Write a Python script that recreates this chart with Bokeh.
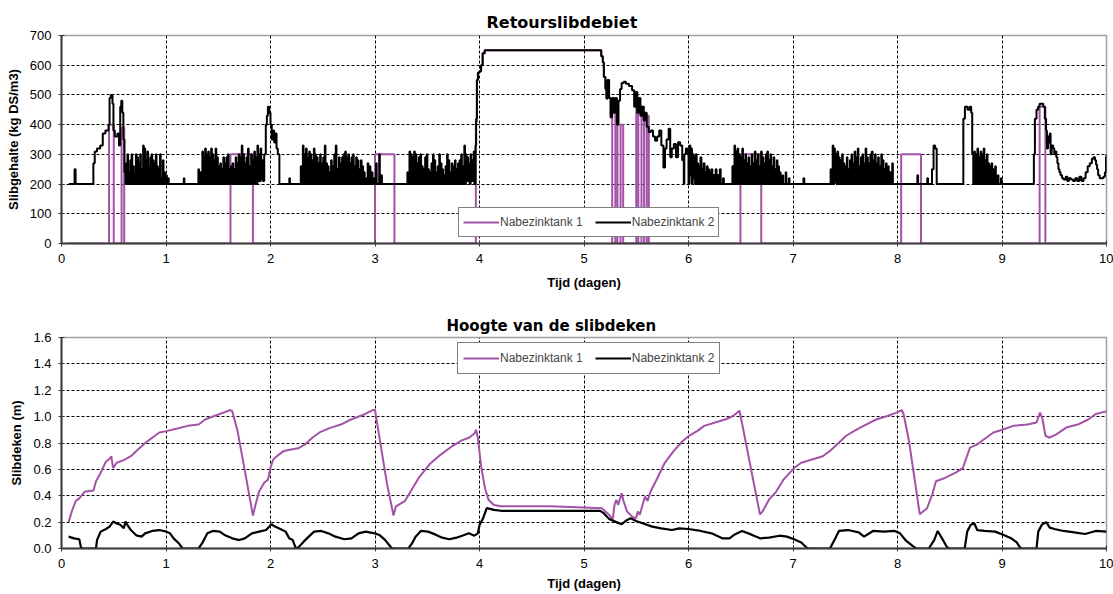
from bokeh.plotting import figure
from bokeh.layouts import column
from bokeh.models import (Range1d, SingleIntervalTicker, Legend, LegendItem,
                          NumeralTickFormatter)
from bokeh.embed import file_html
from bokeh.resources import INLINE

# ---------------------------------------------------------------------------
# Data: time in days, values per settling tank
# ---------------------------------------------------------------------------
series_names = ["Nabezinktank 1", "Nabezinktank 2"]

# Return sludge concentration (kg DS/m3), stepwise signals (day, value)
retour_tank1 = [
    (0.07, 0), (0.455, 400), (0.50, 0), (0.575, 390), (0.60, 0),
    (1.617, 300), (1.832, 0), (3.0, 300), (3.186, 0),
    (3.965, 410), (3.975, 550), (3.985, 575), (4.0, 580), (4.015, 600),
    (4.03, 640), (4.05, 650), (5.15, 650), (5.165, 630), (5.18, 610),
    (5.19, 560), (5.205, 520), (5.215, 488), (5.225, 550), (5.24, 490),
    (5.255, 425), (5.27, 0), (5.30, 450), (5.32, 0), (5.35, 400), (5.375, 0),
    (5.50, 470), (5.52, 0), (5.55, 460), (5.575, 0), (5.60, 430), (5.62, 0),
    (6.497, 300), (6.696, 0), (8.035, 300), (8.225, 0), (9.36, 460),
    (9.415, 0), (10.0, 0),
]

retour_tank2 = [
    (0.07, 200), (0.125, 250), (0.135, 200), (0.305, 270), (0.318, 310),
    (0.34, 320), (0.37, 330), (0.395, 370), (0.42, 380), (0.45, 400),
    (0.46, 490), (0.472, 500), (0.488, 470), (0.497, 380), (0.51, 360),
    (0.535, 370), (0.55, 330), (0.562, 460), (0.572, 480), (0.582, 440),
    (0.592, 350), (0.602, 240),
    (0.612, 200), (0.618, 270), (0.624, 200), (0.631, 300), (0.637, 200),
    (0.645, 240), (0.651, 200), (0.658, 280), (0.664, 200), (0.671, 300),
    (0.677, 200), (0.686, 260), (0.692, 200), (0.699, 230), (0.705, 200),
    (0.712, 300), (0.718, 200), (0.726, 290), (0.732, 200), (0.74, 270),
    (0.746, 200), (0.753, 300), (0.759, 200), (0.767, 250), (0.773, 200),
    (0.781, 330), (0.787, 200), (0.795, 320), (0.801, 200), (0.808, 280),
    (0.814, 200), (0.822, 310), (0.828, 200), (0.835, 260), (0.841, 200),
    (0.849, 290), (0.855, 200), (0.862, 300), (0.868, 200), (0.876, 280),
    (0.882, 200), (0.889, 270), (0.895, 200), (0.903, 300), (0.909, 200),
    (0.916, 260), (0.922, 200), (0.93, 250), (0.936, 200), (0.943, 300),
    (0.949, 200), (0.957, 220), (0.963, 200), (0.97, 280), (0.976, 200),
    (0.985, 240), (0.991, 200), (1.002, 230), (1.008, 200), (1.02, 220),
    (1.026, 200), (1.17, 220), (1.176, 200),
    (1.31, 250), (1.316, 200), (1.33, 240), (1.336, 200), (1.348, 310),
    (1.354, 200), (1.362, 290), (1.368, 200), (1.375, 320), (1.381, 200),
    (1.39, 300), (1.396, 200), (1.404, 310), (1.41, 200), (1.418, 290),
    (1.424, 200), (1.432, 320), (1.438, 200), (1.447, 300), (1.453, 200),
    (1.461, 280), (1.467, 200), (1.475, 320), (1.481, 200), (1.49, 290),
    (1.496, 200), (1.505, 260), (1.511, 200), (1.52, 270), (1.526, 200),
    (1.535, 250), (1.541, 200), (1.549, 290), (1.555, 200), (1.563, 270),
    (1.569, 200), (1.578, 290), (1.584, 200), (1.593, 300), (1.599, 200),
    (1.608, 250), (1.614, 200), (1.622, 260), (1.628, 200), (1.637, 270),
    (1.643, 200), (1.652, 250), (1.658, 200), (1.667, 290), (1.673, 200),
    (1.681, 270), (1.687, 200), (1.696, 300), (1.702, 200), (1.71, 290),
    (1.716, 200), (1.725, 330), (1.731, 200), (1.74, 300), (1.746, 200),
    (1.755, 270), (1.761, 200), (1.77, 290), (1.776, 200), (1.785, 320),
    (1.791, 200), (1.8, 260), (1.806, 200), (1.815, 300), (1.821, 200),
    (1.83, 280), (1.836, 200), (1.845, 310), (1.851, 200), (1.86, 290),
    (1.866, 200), (1.875, 330), (1.881, 210), (1.89, 300), (1.896, 210),
    (1.905, 320), (1.911, 220), (1.92, 280), (1.926, 210),
    (1.94, 300), (1.955, 400), (1.965, 430), (1.975, 460), (1.988, 440),
    (2.0, 400), (2.012, 350), (2.025, 380), (2.035, 340), (2.045, 370),
    (2.058, 320), (2.07, 300), (2.085, 200), (2.18, 220), (2.186, 200),
    (2.29, 260), (2.296, 200), (2.31, 330), (2.316, 200), (2.325, 300),
    (2.331, 200), (2.34, 320), (2.346, 200), (2.355, 290), (2.361, 200),
    (2.37, 310), (2.376, 200), (2.385, 300), (2.391, 200), (2.4, 280),
    (2.406, 200), (2.415, 320), (2.421, 200), (2.43, 300), (2.436, 200),
    (2.445, 290), (2.451, 200), (2.46, 270), (2.466, 200), (2.475, 300),
    (2.481, 200), (2.49, 270), (2.496, 200), (2.505, 290), (2.511, 200),
    (2.52, 330), (2.526, 200), (2.535, 270), (2.541, 200), (2.55, 260),
    (2.556, 200), (2.565, 240), (2.571, 200), (2.58, 280), (2.586, 200),
    (2.595, 260), (2.601, 200), (2.61, 300), (2.616, 200), (2.625, 330),
    (2.631, 200), (2.64, 250), (2.646, 200), (2.655, 290), (2.661, 200),
    (2.67, 270), (2.676, 200), (2.685, 290), (2.691, 200), (2.7, 300),
    (2.706, 200), (2.715, 310), (2.721, 200), (2.73, 290), (2.736, 200),
    (2.745, 300), (2.751, 200), (2.76, 270), (2.766, 200), (2.775, 290),
    (2.781, 200), (2.79, 300), (2.796, 200), (2.805, 260), (2.811, 200),
    (2.82, 290), (2.826, 200), (2.835, 280), (2.841, 200), (2.85, 250),
    (2.856, 200), (2.865, 280), (2.871, 200), (2.88, 260), (2.886, 200),
    (2.895, 240), (2.901, 200), (2.91, 220), (2.916, 200), (2.93, 270),
    (2.936, 200), (2.95, 260), (2.956, 200), (2.97, 240), (2.976, 200),
    (2.99, 220), (2.996, 200), (3.01, 270), (3.016, 200), (3.04, 300),
    (3.046, 200), (3.06, 230), (3.066, 200),
    (3.31, 240), (3.316, 200), (3.33, 310), (3.336, 200), (3.345, 300),
    (3.351, 200), (3.36, 290), (3.366, 200), (3.375, 310), (3.381, 200),
    (3.39, 300), (3.396, 200), (3.405, 270), (3.411, 200), (3.42, 290),
    (3.426, 200), (3.435, 300), (3.441, 200), (3.45, 260), (3.456, 200),
    (3.465, 250), (3.471, 200), (3.48, 290), (3.486, 200), (3.495, 300),
    (3.501, 200), (3.51, 250), (3.516, 200), (3.525, 240), (3.531, 200),
    (3.54, 270), (3.546, 200), (3.555, 300), (3.561, 200), (3.57, 280),
    (3.576, 200), (3.585, 240), (3.591, 200), (3.6, 260), (3.606, 200),
    (3.615, 300), (3.621, 200), (3.63, 270), (3.636, 200), (3.645, 250),
    (3.651, 200), (3.66, 230), (3.666, 200), (3.675, 260), (3.681, 200),
    (3.69, 300), (3.696, 200), (3.705, 280), (3.711, 200), (3.72, 240),
    (3.726, 200), (3.735, 270), (3.741, 200), (3.75, 260), (3.756, 200),
    (3.765, 280), (3.771, 200), (3.78, 250), (3.786, 200), (3.795, 270),
    (3.801, 200), (3.81, 280), (3.816, 200), (3.825, 300), (3.831, 200),
    (3.84, 260), (3.846, 200), (3.855, 330), (3.861, 200), (3.87, 300),
    (3.876, 210), (3.885, 290), (3.891, 210), (3.9, 270), (3.906, 200),
    (3.915, 300), (3.921, 210), (3.93, 280), (3.936, 210), (3.945, 310),
    (3.951, 200),
    (3.962, 330), (3.968, 420), (3.975, 550), (3.985, 575), (4.0, 580),
    (4.015, 600), (4.03, 640), (4.05, 650), (5.15, 650), (5.165, 630),
    (5.18, 610), (5.19, 560), (5.205, 520), (5.215, 488), (5.225, 550),
    (5.24, 490), (5.255, 425), (5.27, 490), (5.285, 440), (5.3, 490),
    (5.315, 400), (5.33, 480), (5.345, 520), (5.36, 540), (5.38, 544),
    (5.4, 538), (5.43, 530), (5.46, 516), (5.48, 460), (5.495, 510),
    (5.51, 440), (5.525, 490), (5.54, 430), (5.555, 460), (5.57, 414),
    (5.585, 440), (5.6, 393), (5.62, 375), (5.64, 380), (5.66, 360),
    (5.68, 346), (5.7, 360), (5.72, 380), (5.74, 330), (5.76, 256),
    (5.775, 320), (5.79, 350), (5.81, 386), (5.825, 290), (5.84, 320),
    (5.86, 335), (5.88, 290), (5.9, 341), (5.92, 330), (5.94, 280),
    (5.955, 200), (5.96, 300), (5.975, 320), (5.99, 300),
    (6.0, 200), (6.01, 330), (6.018, 230), (6.025, 320), (6.033, 200),
    (6.04, 300), (6.048, 220), (6.055, 290), (6.063, 200), (6.07, 300),
    (6.078, 200), (6.085, 270), (6.093, 200), (6.1, 260), (6.108, 200),
    (6.115, 290), (6.123, 200), (6.13, 250), (6.138, 200), (6.145, 270),
    (6.153, 200), (6.16, 240), (6.168, 200), (6.175, 260), (6.183, 200),
    (6.19, 250), (6.198, 200), (6.205, 240), (6.213, 200), (6.22, 250),
    (6.228, 200), (6.24, 230), (6.248, 200), (6.26, 250), (6.268, 200),
    (6.28, 230), (6.288, 200), (6.3, 250), (6.308, 200), (6.33, 220),
    (6.338, 200),
    (6.42, 260), (6.428, 200), (6.44, 330), (6.446, 200), (6.455, 310),
    (6.461, 200), (6.47, 320), (6.476, 200), (6.485, 300), (6.491, 200),
    (6.5, 290), (6.506, 200), (6.515, 320), (6.521, 200), (6.53, 280),
    (6.536, 200), (6.545, 300), (6.551, 200), (6.56, 270), (6.566, 200),
    (6.575, 290), (6.581, 200), (6.59, 260), (6.596, 200), (6.605, 300),
    (6.611, 200), (6.62, 270), (6.626, 200), (6.635, 310), (6.641, 200),
    (6.65, 280), (6.656, 200), (6.665, 300), (6.671, 200), (6.68, 260),
    (6.686, 200), (6.695, 310), (6.701, 200), (6.71, 290), (6.716, 200),
    (6.725, 270), (6.731, 200), (6.74, 300), (6.746, 200), (6.755, 310),
    (6.761, 200), (6.77, 280), (6.776, 200), (6.785, 300), (6.791, 200),
    (6.8, 260), (6.806, 200), (6.815, 290), (6.821, 200), (6.83, 250),
    (6.836, 200), (6.845, 280), (6.851, 200), (6.86, 260), (6.866, 200),
    (6.875, 240), (6.881, 200), (6.9, 230), (6.906, 200), (6.93, 240),
    (6.936, 200), (6.96, 220), (6.966, 200), (7.1, 220), (7.108, 200),
    (7.36, 250), (7.366, 200), (7.38, 330), (7.386, 200), (7.395, 320),
    (7.401, 210), (7.41, 300), (7.416, 200), (7.425, 310), (7.431, 200),
    (7.44, 290), (7.446, 200), (7.455, 280), (7.461, 200), (7.47, 300),
    (7.476, 200), (7.485, 270), (7.491, 200), (7.5, 260), (7.506, 200),
    (7.515, 290), (7.521, 200), (7.53, 250), (7.536, 200), (7.545, 280),
    (7.551, 200), (7.56, 300), (7.566, 200), (7.575, 270), (7.581, 200),
    (7.59, 310), (7.596, 200), (7.605, 290), (7.611, 200), (7.62, 320),
    (7.626, 200), (7.635, 260), (7.641, 200), (7.65, 290), (7.656, 200),
    (7.665, 300), (7.671, 200), (7.68, 270), (7.686, 200), (7.695, 320),
    (7.701, 200), (7.71, 290), (7.716, 200), (7.725, 270), (7.731, 200),
    (7.74, 300), (7.746, 200), (7.755, 310), (7.761, 200), (7.77, 280),
    (7.776, 200), (7.785, 300), (7.791, 200), (7.8, 270), (7.806, 200),
    (7.815, 290), (7.821, 200), (7.83, 260), (7.836, 200), (7.845, 300),
    (7.851, 200), (7.86, 280), (7.866, 200), (7.875, 250), (7.881, 200),
    (7.89, 270), (7.896, 200), (7.91, 260), (7.916, 200), (7.93, 240),
    (7.936, 200), (7.95, 270), (7.956, 200),
    (8.19, 230), (8.197, 200), (8.285, 220), (8.292, 200),
    (8.33, 250), (8.345, 330), (8.36, 320), (8.375, 200),
    (8.63, 420), (8.645, 460), (8.67, 450), (8.69, 460), (8.705, 440),
    (8.715, 300), (8.725, 200), (8.735, 310), (8.741, 200), (8.75, 300),
    (8.756, 200), (8.765, 320), (8.771, 200), (8.78, 290), (8.786, 200),
    (8.795, 310), (8.801, 200), (8.81, 300), (8.816, 200), (8.825, 320),
    (8.831, 200), (8.84, 280), (8.846, 200), (8.855, 300), (8.861, 200),
    (8.87, 270), (8.876, 200), (8.885, 260), (8.891, 200), (8.9, 270),
    (8.906, 200), (8.915, 250), (8.921, 200), (8.935, 260), (8.941, 200),
    (8.96, 230), (8.966, 200), (8.99, 220), (8.996, 200),
    (9.305, 300), (9.315, 420), (9.33, 450), (9.345, 460), (9.36, 470),
    (9.38, 470), (9.395, 460), (9.41, 420), (9.422, 380), (9.43, 320),
    (9.44, 360), (9.45, 340), (9.458, 370), (9.465, 300), (9.475, 330),
    (9.49, 320), (9.5, 300), (9.51, 310), (9.52, 290), (9.53, 270),
    (9.54, 250), (9.55, 240), (9.56, 230), (9.575, 220), (9.59, 215),
    (9.61, 225), (9.625, 210), (9.64, 220), (9.66, 215), (9.68, 210),
    (9.7, 220), (9.72, 210), (9.74, 225), (9.76, 210), (9.78, 220),
    (9.8, 240), (9.82, 260), (9.84, 270), (9.86, 285), (9.875, 290),
    (9.89, 280), (9.9, 265), (9.91, 250), (9.92, 230), (9.935, 220),
    (9.95, 220), (9.97, 225), (9.985, 240), (9.995, 290), (10.0, 300),
]

# Sludge blanket height (m)
deken_tank1 = [
    (0.068, 0.20), (0.102, 0.29), (0.136, 0.36), (0.17, 0.38), (0.221, 0.43),
    (0.306, 0.44), (0.33, 0.51), (0.375, 0.575), (0.426, 0.66), (0.46, 0.68),
    (0.477, 0.70), (0.494, 0.61), (0.528, 0.65), (0.596, 0.67), (0.664, 0.70),
    (0.732, 0.75), (0.80, 0.80), (0.868, 0.84), (0.936, 0.88), (1.004, 0.89),
    (1.107, 0.91), (1.209, 0.93), (1.311, 0.94), (1.379, 0.98), (1.481, 1.01),
    (1.549, 1.03), (1.617, 1.05), (1.634, 1.04), (1.685, 0.89), (1.754, 0.59),
    (1.832, 0.25), (1.856, 0.33), (1.89, 0.43), (1.941, 0.50), (1.975, 0.52),
    (1.999, 0.61), (2.026, 0.675), (2.077, 0.71), (2.128, 0.74), (2.196, 0.75),
    (2.264, 0.76), (2.332, 0.79), (2.40, 0.84), (2.469, 0.88), (2.571, 0.915),
    (2.673, 0.94), (2.775, 0.98), (2.877, 1.01), (2.979, 1.05), (3.0, 1.05),
    (3.047, 0.82), (3.115, 0.49), (3.177, 0.25), (3.20, 0.32), (3.286, 0.36),
    (3.354, 0.45), (3.422, 0.54), (3.524, 0.64), (3.626, 0.71), (3.728, 0.77),
    (3.83, 0.82), (3.899, 0.84), (3.95, 0.87), (3.967, 0.90), (3.984, 0.84),
    (4.018, 0.61), (4.052, 0.46), (4.086, 0.37), (4.137, 0.33), (4.205, 0.32),
    (4.674, 0.32), (5.0, 0.31), (5.172, 0.305), (5.241, 0.255), (5.275, 0.22),
    (5.292, 0.33), (5.309, 0.37), (5.326, 0.33), (5.361, 0.42), (5.378, 0.36),
    (5.412, 0.28), (5.464, 0.24), (5.498, 0.23), (5.515, 0.28), (5.533, 0.255),
    (5.56, 0.33), (5.584, 0.395), (5.608, 0.36), (5.636, 0.43), (5.687, 0.51),
    (5.773, 0.65), (5.859, 0.74), (5.945, 0.815), (5.997, 0.85), (6.082, 0.89),
    (6.151, 0.93), (6.254, 0.955), (6.357, 0.98), (6.426, 1.005), (6.488, 1.045),
    (6.546, 0.815), (6.615, 0.535), (6.684, 0.26), (6.708, 0.28), (6.77, 0.37),
    (6.838, 0.43), (6.907, 0.52), (7.01, 0.61), (7.079, 0.65), (7.182, 0.675),
    (7.285, 0.70), (7.354, 0.74), (7.423, 0.79), (7.509, 0.855), (7.595, 0.895),
    (7.698, 0.94), (7.801, 0.98), (7.904, 1.005), (7.99, 1.03), (8.041, 1.05),
    (8.058, 1.02), (8.11, 0.815), (8.162, 0.535), (8.213, 0.26), (8.282, 0.305),
    (8.333, 0.41), (8.368, 0.51), (8.454, 0.535), (8.557, 0.575), (8.625, 0.61),
    (8.66, 0.69), (8.694, 0.765), (8.763, 0.79), (8.832, 0.83), (8.918, 0.88),
    (9.003, 0.90), (9.107, 0.93), (9.244, 0.94), (9.33, 0.955), (9.364, 1.03),
    (9.388, 0.98), (9.416, 0.855), (9.45, 0.84), (9.519, 0.865), (9.622, 0.92),
    (9.725, 0.94), (9.828, 0.98), (9.897, 1.02), (10.0, 1.04),
]

deken_tank2 = [
    (0.068, 0.09), (0.119, 0.077), (0.17, 0.07), (0.187, 0.005), (0.204, 0.0),
    (0.33, 0.0), (0.34, 0.064), (0.375, 0.128), (0.426, 0.148), (0.46, 0.166),
    (0.494, 0.204), (0.528, 0.19), (0.562, 0.18), (0.596, 0.153), (0.613, 0.204),
    (0.63, 0.18), (0.664, 0.14), (0.715, 0.10), (0.766, 0.09), (0.80, 0.115),
    (0.868, 0.133), (0.936, 0.14), (1.004, 0.128), (1.038, 0.115), (1.073, 0.077),
    (1.124, 0.038), (1.158, 0.0), (1.311, 0.0), (1.345, 0.038), (1.396, 0.115),
    (1.447, 0.133), (1.515, 0.128), (1.566, 0.10), (1.634, 0.077), (1.702, 0.064),
    (1.754, 0.077), (1.822, 0.115), (1.89, 0.128), (1.958, 0.14), (2.009, 0.184),
    (2.043, 0.166), (2.094, 0.148), (2.145, 0.128), (2.179, 0.077), (2.213, 0.064),
    (2.237, 0.013), (2.257, 0.0), (2.281, 0.02), (2.315, 0.05), (2.366, 0.09),
    (2.417, 0.128), (2.486, 0.133), (2.554, 0.115), (2.622, 0.09), (2.707, 0.07),
    (2.775, 0.077), (2.843, 0.115), (2.911, 0.128), (2.996, 0.115), (3.047, 0.10),
    (3.098, 0.064), (3.149, 0.013), (3.167, 0.0), (3.32, 0.0), (3.354, 0.038),
    (3.388, 0.09), (3.439, 0.133), (3.507, 0.128), (3.575, 0.107), (3.643, 0.082),
    (3.711, 0.07), (3.779, 0.082), (3.847, 0.10), (3.899, 0.115), (3.95, 0.097),
    (3.984, 0.115), (4.001, 0.18), (4.035, 0.23), (4.069, 0.306), (4.103, 0.30),
    (4.137, 0.293), (4.205, 0.286), (4.674, 0.285), (5.155, 0.285), (5.189, 0.268),
    (5.241, 0.224), (5.309, 0.20), (5.361, 0.184), (5.412, 0.217), (5.447, 0.23),
    (5.498, 0.209), (5.567, 0.19), (5.653, 0.166), (5.739, 0.153), (5.842, 0.14),
    (5.911, 0.153), (5.997, 0.148), (6.117, 0.133), (6.22, 0.115), (6.323, 0.077),
    (6.392, 0.077), (6.443, 0.107), (6.512, 0.133), (6.598, 0.107), (6.684, 0.077),
    (6.77, 0.082), (6.873, 0.097), (6.942, 0.09), (7.01, 0.07), (7.079, 0.046),
    (7.131, 0.005), (7.148, 0.0), (7.354, 0.0), (7.405, 0.077), (7.44, 0.133),
    (7.526, 0.14), (7.629, 0.122), (7.68, 0.09), (7.766, 0.133), (7.869, 0.128),
    (7.973, 0.133), (8.024, 0.115), (8.076, 0.064), (8.144, 0.02), (8.179, 0.0),
    (8.299, 0.0), (8.351, 0.064), (8.385, 0.133), (8.426, 0.077), (8.471, 0.013),
    (8.495, 0.0), (8.643, 0.0), (8.667, 0.128), (8.701, 0.18), (8.735, 0.19),
    (8.763, 0.14), (8.832, 0.133), (8.935, 0.128), (9.021, 0.10), (9.089, 0.077),
    (9.141, 0.046), (9.175, 0.005), (9.192, 0.0), (9.33, 0.0), (9.347, 0.128),
    (9.381, 0.18), (9.423, 0.20), (9.457, 0.158), (9.502, 0.148), (9.588, 0.133),
    (9.691, 0.122), (9.794, 0.11), (9.897, 0.133), (10.0, 0.128),
]

PURPLE = "#A352A8"
BLACK = "#000000"
FONT = "Liberation Sans"
TITLE_FONT = "DejaVu Sans"


def xy(pairs):
    return [p[0] for p in pairs], [p[1] for p in pairs]


def make_figure(title, ylabel, y_end, y_step, borders, title_standoff,
                title_offset, label_standoff):
    left, right, top, bottom = borders
    p = figure(width=1113, height=297, output_backend="svg",
               toolbar_location=None,
               x_range=Range1d(0, 10), y_range=Range1d(0, y_end),
               min_border_left=left, min_border_right=right,
               min_border_top=top, min_border_bottom=bottom)
    p.title.text = title
    p.title.align = "left"
    p.title.offset = title_offset
    p.title.text_font = TITLE_FONT
    p.title.text_font_size = "16px"
    p.title.text_font_style = "bold"
    p.title.text_color = "black"
    p.title.standoff = title_standoff

    p.xaxis.ticker = SingleIntervalTicker(interval=1)
    p.yaxis.ticker = SingleIntervalTicker(interval=y_step)
    p.xaxis.axis_label = "Tijd (dagen)"
    p.yaxis.axis_label = ylabel
    for ax in (p.xaxis[0], p.yaxis[0]):
        ax.axis_line_color = "#3c3c3c"
        ax.axis_line_width = 2
        ax.major_tick_line_color = "#3c3c3c"
        ax.major_tick_in = 3
        ax.major_tick_out = 3
        ax.minor_tick_line_color = None
        ax.major_label_text_font = FONT
        ax.major_label_text_font_size = "13px"
        ax.major_label_text_color = "black"
        ax.major_label_standoff = 6
        ax.axis_label_text_font = FONT
        ax.axis_label_text_font_size = "13px"
        ax.axis_label_text_font_style = "bold"
        ax.axis_label_text_color = "black"
    p.xaxis.axis_label_standoff = label_standoff
    p.yaxis.axis_label_standoff = 6

    for g in (p.xgrid[0], p.ygrid[0]):
        g.grid_line_color = "black"
        g.grid_line_dash = "3 2"
        g.grid_line_width = 1

    p.outline_line_color = "#a0a0a0"
    p.outline_line_width = 1.5
    p.background_fill_color = "white"
    p.border_fill_color = "white"
    return p


def add_legend(p, renderers, loc, pad):
    legend = Legend(
        items=[LegendItem(label=name, renderers=[r])
               for name, r in zip(series_names, renderers)],
        orientation="horizontal", location=loc,
        border_line_color="black", border_line_width=1,
        background_fill_color="white", background_fill_alpha=1,
        padding=pad, spacing=12, margin=0,
        glyph_width=36, glyph_height=20, label_height=20,
        label_standoff=1, label_text_font=FONT,
        label_text_font_size="12px",
    )
    p.add_layout(legend)


# --- Retourslibdebiet -------------------------------------------------------
top = make_figure("Retourslibdebiet", "Slibgehalte (kg DS/m3)", 700, 100,
                  (61, 7, 35, 54), 8, 425, 9)
x1, y1 = xy(retour_tank1)
x2, y2 = xy(retour_tank2)
r1 = top.step(x1, y1, mode="after", line_color=PURPLE, line_width=2)
r2 = top.step(x2, y2, mode="after", line_color=BLACK, line_width=2)
add_legend(top, [r1, r2], (397, 6), 4)

# --- Hoogte van de slibdeken ------------------------------------------------
bottom = make_figure("Hoogte van de slibdeken", "Slibdeken (m)", 1.6, 0.2,
                     (60, 6, 40, 46), 5, 385, 5)
bottom.title.text_font_size = "15px"
bottom.yaxis.formatter = NumeralTickFormatter(format="0.0")
bx1, by1 = xy(deken_tank1)
bx2, by2 = xy(deken_tank2)
b1 = bottom.line(bx1, by1, line_color=PURPLE, line_width=2)
b2 = bottom.line(bx2, by2, line_color=BLACK, line_width=2.2)
add_legend(bottom, [b1, b2], (396, 174), 5)

layout = column(top, bottom, spacing=0)
open("out.html", "w").write(file_html(layout, INLINE))
